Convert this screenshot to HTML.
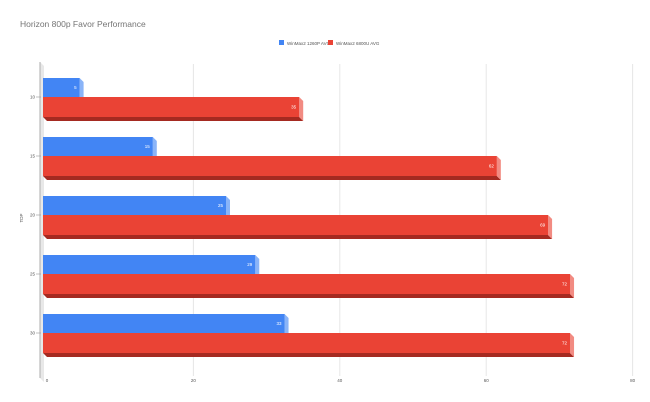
<!DOCTYPE html>
<html><head><meta charset="utf-8"><style>
html,body{margin:0;padding:0;background:#fff;}
svg{display:block;font-family:"Liberation Sans",sans-serif;}
</style></head><body>
<svg id="chart" width="650" height="402" viewBox="0 0 650 402">
<text x="20" y="27" font-size="8.5" fill="#757575">Horizon 800p Favor Performance</text>
<g>
<rect x="279" y="40" width="5" height="5" fill="#4285f4"></rect>
<text x="287" y="45" font-size="4.5" fill="#555">WinMax2 1260P AVG</text>
<rect x="328" y="40" width="5" height="5" fill="#ea4335"></rect>
<text x="336" y="45" font-size="4.5" fill="#555">WinMax2 6800U AVG</text>
</g>
<text transform="translate(23,218) rotate(-90)" text-anchor="middle" font-size="4.5" fill="#555">TDP</text>
<g id="grid"></g>
<polygon points="40,62 44,66 44,382 40,378" fill="#e8e8e8"></polygon>
<line x1="40" y1="62" x2="40" y2="378" stroke="#bbb" stroke-width="1.2"></line>
<g id="bars"></g>
</svg>
<script>
const categories = ["10","15","20","25","30"];
const series1260p = [5,15,25,29,33];
const series6800u = [35,62,69,72,72];
const xTicks = [0,20,40,60,80];

const svg = document.getElementById('chart');
const NS = 'http://www.w3.org/2000/svg';
const x0 = 43, pxPerUnit = 7.32, depth = 4;
function xScale(v){ return x0 + v*pxPerUnit; }
function yScale(i){ return 97 + i*59; }
function mk(tag, attrs, parent){
  const e = document.createElementNS(NS, tag);
  for (const k in attrs) e.setAttribute(k, attrs[k]);
  parent.appendChild(e);
  return e;
}
const grid = document.getElementById('grid');
xTicks.forEach(t => {
  const x = xScale(t) + depth;
  if (t !== 0) {
    const l = mk('line', {x1:x, y1:64, x2:x, y2:376, stroke:'#e6e6e6', 'stroke-width':1}, grid);
    
    
  }
  const tx = mk('text', {x:x, y:382, 'font-size':4.5, fill:'#555', 'text-anchor':'middle'}, grid);
  tx.textContent = t;
  
  
});
const bars = document.getElementById('bars');
function bar(v, yTop, h, front, side, bottom, name){
  const g = mk('g', {}, bars);
  
  
  const xr = xScale(v);
  mk('polygon', {points:`${x0},${yTop+h} ${xr},${yTop+h} ${xr+depth},${yTop+h+depth} ${x0+depth},${yTop+h+depth}`, fill:bottom}, g);
  mk('polygon', {points:`${xr},${yTop} ${xr+depth},${yTop+depth} ${xr+depth},${yTop+h+depth} ${xr},${yTop+h}`, fill:side}, g);
  mk('rect', {x:x0, y:yTop, width:xr-x0, height:h, fill:front}, g);
  const t = mk('text', {x:xr-3, y:yTop+h/2+1.6, 'font-size':4.5, fill:'#fff', 'text-anchor':'end'}, g);
  t.textContent = v;
  return g;
}
categories.forEach((c, i) => {
  const yc = yScale(i);
  bar(series1260p[i], yc-19, 19, '#4285f4', '#8ab4f8', '#2a5db0', 'bar-1260p-' + c);
  bar(series6800u[i], yc, 20, '#ea4335', '#f28b82', '#a52a21', 'bar-6800u-' + c);
  const tk = mk('line', {x1:36, y1:yc, x2:41, y2:yc, stroke:'#999', 'stroke-width':0.6}, bars);
  
  
  const lb = mk('text', {x:35, y:yc+1.5, 'font-size':4.5, fill:'#555', 'text-anchor':'end'}, bars);
  lb.textContent = c;
  
  
});
</script>
</body></html>
